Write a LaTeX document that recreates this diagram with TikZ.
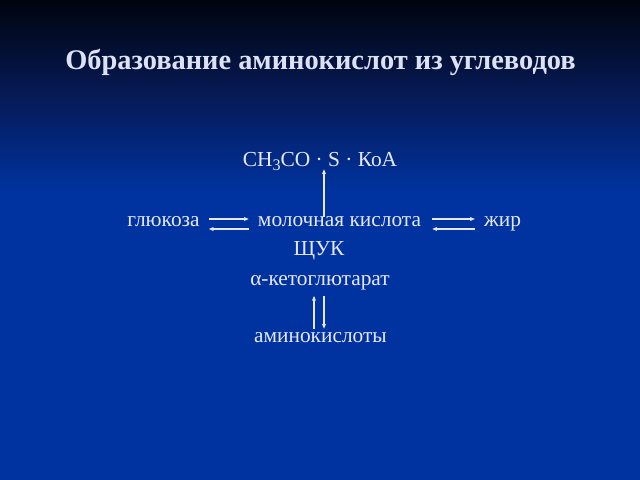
\documentclass[tikz,border=0pt]{standalone}
\usepackage{fontspec}
\setmainfont{Liberation Serif}
\usepackage{tikz}
\usetikzlibrary{arrows.meta,calc}
\usepackage{xcolor}

\definecolor{slideblue}{HTML}{0033A0}
\definecolor{slidemid}{HTML}{061A55}
\definecolor{slidetop}{HTML}{00040F}
\definecolor{inkcol}{HTML}{E6E8FF}
\definecolor{titlecol}{HTML}{DDE1F4}
\pgfdeclareverticalshading{slidebg}{100bp}{color(0bp)=(slideblue); color(55bp)=(slideblue); color(65bp)=(slidemid); color(75bp)=(slidetop); color(100bp)=(slidetop)}

\tikzset{
  word/.style={text=inkcol,inner sep=0pt,anchor=base,font=\fontsize{15.2}{18}\selectfont},
  flow/.style={draw=inkcol,line width=0.8pt,-{Stealth[length=3.5pt,width=3pt]}}
}

\begin{document}
\begin{tikzpicture}[x=0.025cm,y=-0.025cm]

\shade[shading=slidebg] (0,0) rectangle (640,480);
\useasboundingbox (0,0) rectangle (640,480);

\node[text=titlecol,anchor=base,inner sep=0pt,font=\fontsize{20.2}{24}\bfseries] (title) at (320.5,69) {Образование аминокислот из углеводов};

\node[word] (acoa) at (320,166) {CH\raisebox{-0.5ex}{\fontsize{11.5}{11}\selectfont 3}CO · S · КоА};
\node[word] (gluc) at (163.5,226) {глюкоза};
\node[word] (lact) at (339.5,226) {молочная кислота};
\node[word] (fat) at (502.5,226) {жир};
\node[word] (oaa) at (319,255) {ЩУК};
\node[word] (akg) at (320,285) {α-кетоглютарат};
\node[word] (amino) at (320.5,342) {аминокислоты};

\draw[flow] ($(lact.north)+(-15.5,1)$) -- ($(lact.north |- acoa.south)+(-15.5,-2)$);

\draw[flow] ($(gluc.base east)+(9,-7)$) -- ($(lact.base west)+(-9,-7)$);
\draw[flow] ($(lact.base west)+(-9,3)$) -- ($(gluc.base east)+(9,3)$);
\draw[flow] ($(lact.base east)+(11,-7)$) -- ($(fat.base west)+(-9,-7)$);
\draw[flow] ($(fat.base west)+(-9,3)$) -- ($(lact.base east)+(11,3)$);

\draw[flow] ($(amino.north)+(-6.5,-3)$) -- ($(amino.north |- akg.base)+(-6.5,11)$);
\draw[flow] ($(amino.north |- akg.base)+(3.5,11)$) -- ($(amino.north)+(3.5,-3)$);
\end{tikzpicture}
\end{document}
